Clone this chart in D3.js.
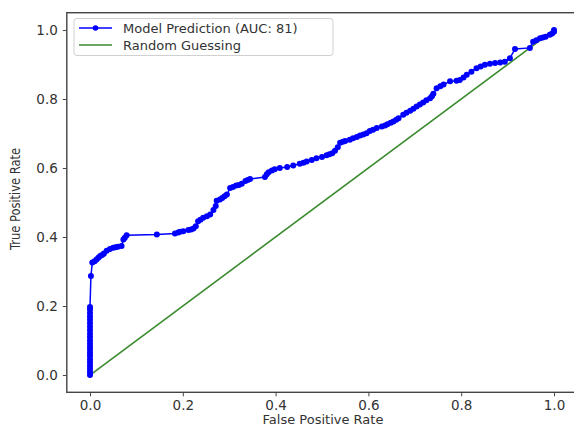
<!DOCTYPE html>
<html>
<head>
<meta charset="utf-8">
<script src="https://cdn.jsdelivr.net/npm/d3@7"></script>
<style>
    body { margin: 0; background: #fff; }
    svg { font-family: "DejaVu Sans", sans-serif; }
</style>
</head>
<body>
<div id="chart"></div>
<script>
// ROC curve points
const fpr = [0, 0, 0, 0, 0, 0, 0, 0, 0, 0, 0, 0, 0, 0, 0, 0, 0, 0, 0, 0, 0, 0,
    0.002, 0.005, 0.01, 0.014, 0.018, 0.022, 0.026, 0.03, 0.036, 0.043, 0.05, 0.055,
    0.06, 0.068, 0.072, 0.075, 0.079,
    0.144, 0.183, 0.19, 0.194, 0.201, 0.212, 0.218, 0.223, 0.228, 0.233, 0.238,
    0.244, 0.252, 0.259, 0.266, 0.271, 0.273, 0.28, 0.285, 0.29, 0.295, 0.302,
    0.308, 0.315, 0.321, 0.327, 0.335, 0.34, 0.345, 0.377, 0.381, 0.385, 0.392,
    0.398, 0.409, 0.425, 0.438, 0.452, 0.46, 0.467, 0.478, 0.488, 0.5, 0.51, 0.516,
    0.522, 0.528, 0.534, 0.539, 0.545, 0.55, 0.56, 0.567, 0.575, 0.582, 0.589,
    0.596, 0.603, 0.61, 0.618, 0.629, 0.636, 0.641, 0.648, 0.654, 0.66, 0.665,
    0.675, 0.682, 0.69, 0.697, 0.704, 0.711, 0.718, 0.725, 0.733, 0.737, 0.74,
    0.747, 0.755, 0.762, 0.776, 0.79, 0.797, 0.805, 0.812, 0.822, 0.833, 0.842,
    0.851, 0.862, 0.873, 0.884, 0.894, 0.905, 0.916, 0.948, 0.955, 0.962, 0.97,
    0.976, 0.982, 0.991, 0.996, 1.0, 1.0];
const tpr = [0, 0.009, 0.018, 0.027, 0.036, 0.045, 0.055, 0.064, 0.073, 0.082,
    0.091, 0.1, 0.11, 0.12, 0.13, 0.14, 0.15, 0.16, 0.17, 0.18, 0.19, 0.197,
    0.287, 0.326, 0.33, 0.335, 0.34, 0.345, 0.348, 0.352, 0.36, 0.365, 0.369, 0.37,
    0.372, 0.374, 0.393, 0.398, 0.405,
    0.407, 0.41, 0.413, 0.415, 0.417, 0.42, 0.422, 0.425, 0.431, 0.446, 0.45,
    0.456, 0.46, 0.465, 0.478, 0.49, 0.505, 0.509, 0.513, 0.518, 0.523, 0.542,
    0.545, 0.549, 0.551, 0.554, 0.562, 0.565, 0.568, 0.574, 0.582, 0.588, 0.593,
    0.596, 0.6, 0.603, 0.607, 0.612, 0.615, 0.619, 0.623, 0.628, 0.632, 0.637,
    0.64, 0.643, 0.65, 0.66, 0.673, 0.676, 0.678, 0.682, 0.686, 0.69, 0.694,
    0.697, 0.701, 0.707, 0.711, 0.716, 0.72, 0.723, 0.727, 0.731, 0.735, 0.74,
    0.744, 0.754, 0.76, 0.766, 0.772, 0.778, 0.784, 0.79, 0.796, 0.802, 0.808,
    0.815, 0.831, 0.837, 0.842, 0.851, 0.853, 0.855, 0.862, 0.87, 0.879, 0.889,
    0.894, 0.899, 0.902, 0.904, 0.906, 0.908, 0.918, 0.945, 0.948, 0.966, 0.97,
    0.976, 0.978, 0.98, 0.986, 0.99, 0.995, 1.0];

const diagonal = [0, 1];
const ticks = [0, 0.2, 0.4, 0.6, 0.8, 1.0];
const legendLabels = ['Model Prediction (AUC: 81)', 'Random Guessing'];
const colors = ['#0000ff', '#3a8a2e'];

const width = 574, height = 427;

const svg = d3.select('#chart').append('svg')
    .attr('width', width)
    .attr('height', height);

// matplotlib-like limits with 5% margins; right spine runs off the picture
const x = d3.scaleLinear([-0.05, 1.05], [66.8, 577.2]);
const y = d3.scaleLinear([-0.05, 1.05], [392.3, 12.7]);

// frame
svg.append('rect')
    .attr('x', x(-0.05)).attr('y', y(1.05))
    .attr('width', x(1.05) - x(-0.05)).attr('height', y(-0.05) - y(1.05))
    .attr('fill', 'none')
    .attr('stroke', '#444')
    .attr('stroke-width', 1.4);

// axes
const axisX = svg.append('g')
    .attr('transform', `translate(0,${y(-0.05)})`)
    .call(d3.axisBottom(x).tickValues(ticks).tickFormat(d3.format('.1f')).tickSize(4).tickPadding(4));
const axisY = svg.append('g')
    .attr('transform', `translate(${x(-0.05)},0)`)
    .call(d3.axisLeft(y).tickValues(ticks).tickFormat(d3.format('.1f')).tickSize(4).tickPadding(5));

[axisX, axisY].forEach(a => {
    a.select('.domain').remove();
    a.selectAll('line').attr('stroke', '#444');
    a.selectAll('text')
        .attr('fill', '#333')
        .style('font-size', '13.5px')
        .style('font-family', '"DejaVu Sans", sans-serif');
});

// random guessing diagonal
svg.append('line')
    .attr('x1', x(diagonal[0])).attr('y1', y(diagonal[0]))
    .attr('x2', x(diagonal[1])).attr('y2', y(diagonal[1]))
    .attr('stroke', colors[1])
    .attr('stroke-width', 1.6);

// model curve
const points = fpr.map((d, i) => [d, tpr[i]]);
const line = d3.line().x(d => x(d[0])).y(d => y(d[1]));

svg.append('path')
    .datum(points)
    .attr('d', line)
    .attr('fill', 'none')
    .attr('stroke', colors[0])
    .attr('stroke-width', 1.5);

svg.selectAll('circle.dot')
    .data(points)
    .join('circle')
    .classed('dot', true)
    .attr('cx', d => x(d[0]))
    .attr('cy', d => y(d[1]))
    .attr('r', 3)
    .attr('fill', colors[0]);

// axis labels
svg.append('text')
    .attr('x', 323).attr('y', 424)
    .attr('text-anchor', 'middle')
    .attr('fill', '#333')
    .style('font-size', '13px')
    .text('False Positive Rate');

svg.append('text')
    .attr('transform', 'translate(20,199) rotate(-90) scale(0.82,1)')
    .attr('text-anchor', 'middle')
    .attr('fill', '#333')
    .style('font-size', '14px')
    .text('True Positive Rate');

// legend
const legend = svg.append('g');
legend.append('rect')
    .attr('x', 74).attr('y', 18.5)
    .attr('width', 259).attr('height', 37)
    .attr('rx', 3)
    .attr('fill', '#fff')
    .attr('fill-opacity', 0.8)
    .attr('stroke', '#d0d0d0');

legendLabels.forEach((label, i) => {
    const ly = 28 + i * 17;
    legend.append('line')
        .attr('x1', 79).attr('x2', 112)
        .attr('y1', ly).attr('y2', ly)
        .attr('stroke', colors[i])
        .attr('stroke-width', 1.5);
    if (i === 0) {
        legend.append('circle')
            .attr('cx', 95.5).attr('cy', ly).attr('r', 2.8)
            .attr('fill', colors[i]);
    }
    legend.append('text')
        .attr('x', 123).attr('y', ly + 4.5)
        .attr('fill', '#333')
        .style('font-size', '13px')
        .text(label);
});
</script>
</body>
</html>
